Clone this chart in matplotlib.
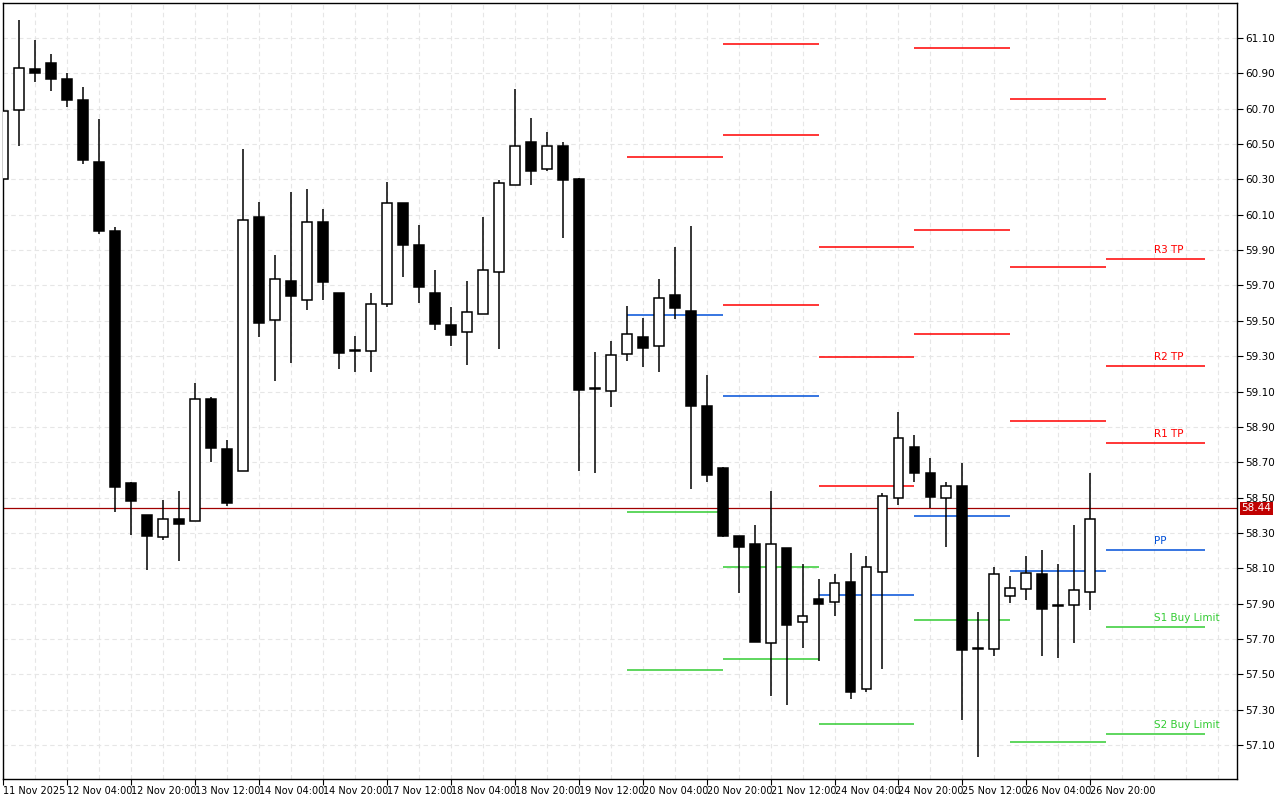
import matplotlib
matplotlib.use("Agg")
import matplotlib.pyplot as plt
import numpy as np

# H4 candles
opens = [60.30, 60.69, 60.925, 60.96, 60.87, 60.75, 60.40, 60.01, 58.58, 58.40,
         58.275, 58.38, 58.37, 59.06, 58.775, 58.65, 60.09, 59.505, 59.725, 59.62,
         60.06, 59.655, 59.335, 59.33, 59.595, 60.165, 59.93, 59.655, 59.475, 59.435,
         59.54, 59.775, 60.27, 60.51, 60.36, 60.49, 60.30, 59.12, 59.105, 59.315,
         59.41, 59.355, 59.645, 59.555, 59.02, 58.665, 58.285, 58.235, 57.675, 58.215,
         57.795, 57.925, 57.91, 58.025, 57.415, 58.08, 58.495, 58.785, 58.64, 58.495,
         58.565, 57.65, 57.645, 57.945, 57.985, 58.07, 57.885, 57.895, 57.965]
highs = [60.70, 61.20, 61.09, 61.01, 60.90, 60.82, 60.64, 60.03, 58.59, 58.40,
         58.485, 58.54, 59.15, 59.07, 58.825, 60.47, 60.17, 59.87, 60.23, 60.245,
         60.13, 59.655, 59.415, 59.66, 60.285, 60.165, 60.04, 59.79, 59.58, 59.725,
         60.09, 60.295, 60.81, 60.65, 60.57, 60.51, 60.31, 59.325, 59.385, 59.585,
         59.515, 59.735, 59.915, 60.035, 59.195, 58.675, 58.285, 58.345, 58.535, 58.215,
         58.125, 58.04, 58.07, 58.185, 58.17, 58.525, 58.985, 58.855, 58.725, 58.59,
         58.695, 57.85, 58.105, 58.055, 58.17, 58.205, 58.125, 58.345, 58.64]
lows = [60.30, 60.49, 60.85, 60.80, 60.71, 60.39, 59.99, 58.42, 58.29, 58.09,
        58.26, 58.14, 58.37, 58.70, 58.455, 58.65, 59.41, 59.16, 59.26, 59.56,
        59.62, 59.23, 59.21, 59.21, 59.58, 59.75, 59.60, 59.45, 59.36, 59.25,
        59.54, 59.34, 60.27, 60.27, 60.35, 59.97, 58.65, 58.64, 59.015, 59.275,
        59.24, 59.21, 59.51, 58.55, 58.59, 58.275, 57.96, 57.685, 57.375, 57.325,
        57.65, 57.575, 57.83, 57.36, 57.40, 57.53, 58.46, 58.59, 58.44, 58.22,
        57.24, 57.035, 57.605, 57.905, 57.92, 57.605, 57.595, 57.675, 57.865]
closes = [60.685, 60.93, 60.90, 60.87, 60.75, 60.41, 60.01, 58.56, 58.48, 58.28,
          58.38, 58.35, 59.06, 58.78, 58.47, 60.07, 59.49, 59.735, 59.64, 60.06,
          59.72, 59.32, 59.33, 59.595, 60.165, 59.93, 59.69, 59.48, 59.42, 59.55,
          59.785, 60.28, 60.49, 60.35, 60.49, 60.295, 59.11, 59.115, 59.305, 59.425,
          59.345, 59.63, 59.57, 59.02, 58.625, 58.285, 58.22, 57.685, 58.235, 57.78,
          57.83, 57.90, 58.015, 57.40, 58.105, 58.51, 58.835, 58.64, 58.505, 58.565,
          57.635, 57.645, 58.065, 57.99, 58.075, 57.87, 57.895, 57.975, 58.38]

time_labels = ["11 Nov 2025", "12 Nov 04:00", "12 Nov 20:00", "13 Nov 12:00",
               "14 Nov 04:00", "14 Nov 20:00", "17 Nov 12:00", "18 Nov 04:00",
               "18 Nov 20:00", "19 Nov 12:00", "20 Nov 04:00", "20 Nov 20:00",
               "21 Nov 12:00", "24 Nov 04:00", "24 Nov 20:00", "25 Nov 12:00",
               "26 Nov 04:00", "26 Nov 20:00"]

# daily pivot levels (None = off chart)
seg_start = [39, 45, 51, 57, 63, 69]
seg_end = [45, 51, 57, 63, 69, 75.2]
r3 = [None, 61.064, 59.916, 61.042, 60.753, 59.848]
r2 = [None, 60.55, 59.293, 60.012, 59.803, 59.244]
r1 = [60.424, 59.588, 58.564, 59.424, 58.931, 58.809]
pp = [59.531, 59.073, 57.947, 58.394, 58.087, 58.202]
s1 = [58.418, 58.105, 57.217, 57.805, 57.115, 57.768]
s2 = [57.522, 57.589, None, None, None, 57.161]
level_names = ["R3 TP", "R2 TP", "R1 TP", "PP", "S1 Buy Limit", "S2 Buy Limit"]
current_price = 58.44

RED = "#ff0000"
BLUE = "#0050d8"
GREEN = "#33cc33"

fig = plt.figure(figsize=(12.8, 8), dpi=100)
ax = fig.add_axes([3 / 1280, 21 / 800, 1234 / 1280, 776 / 800])

x = np.arange(len(opens))
o = np.array(opens); c = np.array(closes)
h = np.array(highs); l = np.array(lows)
up = c >= o

# grid
for xv in range(0, 78, 2):
    ax.axvline(xv, color="#e6e6e6", ls=(0, (4, 3)), lw=0.8, zorder=0)
yt = np.round(np.arange(57.10, 61.11, 0.2), 2)
for yv in yt:
    ax.axhline(yv, color="#e6e6e6", ls=(0, (4, 3)), lw=0.8, zorder=0)

# pivot segments + labels on the last day
level_sets = [r3, r2, r1, pp, s1, s2]
level_cols = [RED, RED, RED, BLUE, GREEN, GREEN]
for levels, col in zip(level_sets, level_cols):
    for a, b, v in zip(seg_start, seg_end, levels):
        if v is not None:
            ax.hlines(v, a, b, color=col, lw=1.1, zorder=1)
for name, levels, col in zip(level_names, level_sets, level_cols):
    ax.text(72.0, levels[-1] + 0.025, name, color=col, fontsize=7.5,
            ha="left", va="bottom", zorder=5)

# current price line
ax.axhline(current_price, color="#a00000", lw=0.9, zorder=1)

# candles
ax.vlines(x, l, h, color="black", lw=1.1, zorder=2)
body_h = np.where(np.abs(c - o) < 0.004, 0.004, c - o)
ax.bar(x, body_h, bottom=o, width=0.62, color=np.where(up, "white", "black"),
       edgecolor="black", linewidth=1.1, zorder=3)

ax.set_xlim(0.04, 77.17)
ax.set_ylim(56.908, 61.298)

ax.yaxis.tick_right()
ax.set_yticks(yt)
ax.set_yticklabels([f"{v:.2f}" for v in yt], fontsize=7.5)
ax.set_xticks(np.arange(0, len(opens), 4))
ax.set_xticklabels(time_labels, fontsize=7, ha="left")
ax.tick_params(axis="both", direction="out", length=4, width=0.8, pad=2)
ax.tick_params(axis="x", pad=1)
for s in ax.spines.values():
    s.set_linewidth(1.0)

ax.annotate(f"{current_price:.2f}", xy=(1.0, current_price),
            xycoords=("axes fraction", "data"), xytext=(3, 0),
            textcoords="offset points", va="center", ha="left",
            fontsize=7.5, color="white",
            bbox=dict(boxstyle="square,pad=0.15", fc="#c00000", ec="none"))

fig.savefig("out.png", dpi=100)
